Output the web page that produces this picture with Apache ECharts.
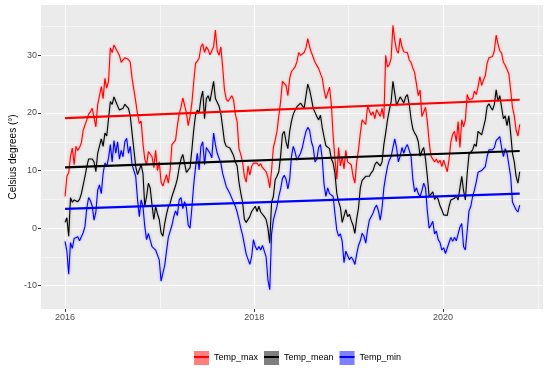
<!DOCTYPE html>
<html><head><meta charset="utf-8">
<script src="https://cdn.jsdelivr.net/npm/echarts@6/dist/echarts.min.js"></script>
<style>html,body{margin:0;padding:0;background:#fff}#c{width:550px;height:372px}</style>
</head><body><div id="c"></div>
<script>
// Weekly observations starting 2016-01-01
const seriesNames = ['Temp_max', 'Temp_mean', 'Temp_min'];
const firstDay = [2016, 0, 1];

const tempMax = [
 5.5, 9.0, 9.6, 12.5, 13.9, 11.0, 14.2, 13.5, 14.0, 14.8,
 17.0, 16.8, 18.8, 19.8, 20.2, 20.8, 21.0, 17.6, 21.4, 21.7,
 24.6, 22.5, 26.0, 24.3, 25.5, 31.3, 30.5, 31.8, 31.2, 30.6,
 30.0, 28.8, 29.0, 29.6, 29.8, 29.3, 28.8, 26.0, 24.0, 22.0,
 19.8, 18.2, 18.6, 14.7, 12.0, 11.0, 13.3, 13.6, 12.4, 10.5,
 13.5, 10.0, 11.5, 8.0, 7.3, 7.6, 9.3, 7.8, 10.1, 14.5,
 14.2, 15.3, 17.8, 19.8, 21.0, 22.6, 22.5, 20.0, 17.8, 19.4,
 21.7, 25.3, 28.6, 29.0, 29.5, 31.5, 32.0, 30.5, 31.5, 31.0,
 30.1, 29.8, 31.5, 34.4, 30.8, 30.0, 31.5, 28.0, 24.0, 22.4,
 22.0, 22.5, 23.0, 22.3, 19.8, 18.5, 13.8, 12.8, 11.5, 9.0,
 8.0, 10.8, 9.2, 10.7, 11.3, 11.0, 11.3, 10.8, 11.2, 10.5,
 10.5, 9.8, 8.8, 7.0, 10.0, 14.0, 15.3, 16.8, 19.5, 22.0,
 25.5, 25.5, 24.8, 23.0, 26.0, 27.2, 27.5, 28.0, 28.9, 30.5,
 30.0, 29.8, 30.5, 31.3, 32.9, 31.5, 30.5, 30.6, 28.8, 28.9,
 27.7, 27.8, 26.0, 24.0, 22.5, 22.6, 24.5, 21.5, 16.0, 12.0,
 8.5, 14.0, 10.8, 12.4, 10.3, 13.5, 11.5, 11.5, 11.0, 9.0,
 7.8, 11.5, 13.6, 16.5, 18.8, 19.0, 18.0, 21.2, 21.0, 19.6,
 20.2, 19.0, 20.6, 20.5, 19.4, 20.8, 19.0, 30.0, 28.0, 28.4,
 29.5, 35.2, 32.7, 30.9, 30.4, 33.0, 31.5, 30.6, 30.3, 30.5,
 29.2, 28.8, 27.8, 27.0, 25.0, 23.0, 24.0, 19.4, 19.5, 21.0,
 18.5, 15.0, 12.5, 12.5, 11.5, 12.0, 11.3, 11.8, 10.7, 11.8,
 10.8, 9.8, 12.0, 15.0, 16.3, 16.8, 15.0, 18.5, 14.0, 18.8,
 17.6, 18.8, 23.2, 22.3, 22.0, 22.5, 23.8, 23.2, 24.5, 26.3,
 24.8, 25.7, 26.5, 28.6, 29.6, 29.5, 29.8, 30.8, 33.5, 32.0,
 30.8, 30.4, 28.8, 28.3, 28.0, 26.8, 24.0, 21.0, 19.5, 17.0,
 16.0, 18.0
];

const tempMean = [
 1.0, 1.8, -1.4, 5.3, 4.5, 4.9, 4.8, 4.6, 5.0, 6.0,
 7.5, 9.0, 10.7, 12.0, 12.3, 12.0, 11.5, 9.8, 13.0, 13.3,
 15.5, 14.2, 16.5, 16.0, 19.0, 22.0, 21.5, 22.8, 22.0, 22.0,
 20.5, 20.2, 20.8, 21.5, 21.7, 20.8, 19.5, 16.5, 13.6, 10.7,
 9.3, 9.0, 11.0, 9.5, 3.8, 5.5, 7.8, 7.0, 4.0, 1.5,
 3.8, 2.5, 1.5, -0.8, -1.4, 0.8, 2.4, 3.7, 4.3, 5.5,
 5.8, 7.4, 8.6, 10.5, 12.0, 12.8, 11.2, 9.7, 9.5, 10.5,
 13.6, 17.0, 19.6, 20.5, 20.0, 22.5, 23.8, 19.0, 22.5, 23.0,
 22.0, 22.3, 25.5, 22.5, 22.5, 21.2, 19.9, 17.5, 15.0, 14.2,
 14.2, 13.9, 13.6, 12.6, 11.5, 10.8, 8.0, 6.1, 4.5, 1.5,
 1.0, 0.8, 2.0, 2.9, 2.6, 3.8, 2.9, 3.8, 2.8, 2.8,
 2.0, 1.5, 0.0, -2.6, 4.5, 5.5, 8.4, 9.0, 9.8, 12.5,
 16.3, 16.8, 15.0, 13.8, 16.8, 18.6, 19.8, 20.5, 21.1, 21.4,
 21.7, 21.5, 20.8, 23.0, 25.0, 24.0, 22.5, 20.8, 20.6, 19.4,
 18.8, 19.6, 17.4, 15.8, 14.3, 14.5, 13.8, 12.0, 11.3, 9.5,
 6.1, 4.6, 3.6, 1.0, 0.8, 3.2, 2.0, 2.4, 1.3, 0.5,
 -0.9, 1.6, 3.5, 7.0, 8.3, 8.6, 9.0, 9.2, 9.0, 9.6,
 10.0, 11.0, 11.5, 11.4, 10.8, 11.5, 14.5, 16.5, 18.8, 20.5,
 21.9, 25.5, 23.5, 21.3, 21.0, 22.8, 22.3, 21.7, 22.8, 23.2,
 21.5, 19.0, 17.2, 16.5, 16.0, 15.0, 12.5, 13.4, 14.0, 12.0,
 9.0, 5.5, 5.8, 6.3, 5.0, 5.5, 5.0, 3.9, 3.2, 2.3,
 2.0, 2.2, 3.8, 4.9, 4.8, 5.2, 5.6, 4.9, 7.0, 9.0,
 6.5, 4.9, 9.5, 12.8, 13.0, 13.6, 14.6, 14.2, 16.8, 16.8,
 16.2, 16.0, 18.8, 21.1, 21.6, 21.0, 20.5, 21.5, 24.0, 22.0,
 23.0, 21.0, 19.0, 19.5, 17.8, 19.5, 16.5, 13.0, 11.5, 9.0,
 7.8, 9.8
];

const tempMin = [
 -2.3, -4.0, -8.0, -2.5, -3.5, -1.8, -2.0, -1.5, -2.2, -1.5,
 -0.8, 0.3, 3.5, 5.3, 4.8, 3.8, 1.4, 2.8, 6.6, 7.5,
 6.0, 9.5, 11.3, 10.7, 12.2, 14.5, 11.5, 15.2, 13.0, 15.0,
 12.0, 13.5, 12.4, 15.0, 15.6, 13.0, 14.2, 11.0, 10.0, 9.0,
 5.0, 2.0, 4.9, 3.8, 0.3, -2.0, -0.9, -1.0, -3.2, -3.0,
 -3.8, -3.5, -5.5, -9.2, -7.8, -6.5, -4.0, -1.6, -1.5, 0.5,
 2.0, 3.0, 2.2, 4.9, 5.3, 3.4, 4.6, 3.5, 0.5, 0.0,
 3.5, 7.5, 10.5, 13.0, 10.1, 14.2, 15.0, 11.0, 14.0, 14.0,
 13.0, 12.2, 16.5, 14.5, 13.0, 13.2, 11.3, 9.5, 9.5, 7.2,
 7.5, 6.0, 6.0, 4.5, 3.8, 2.8, 1.5, 0.0, -1.2, -1.5,
 -4.5, -4.8, -6.3, -5.0, -2.0, -3.2, -3.8, -3.2, -3.8, -3.0,
 -2.8, -5.0, -9.0, -10.7, -1.0, 1.4, 2.6, 3.8, 5.5, 6.8,
 8.6, 9.2, 8.5, 6.8, 8.5, 12.5, 14.2, 13.2, 11.8, 11.5,
 13.0, 14.0, 15.5, 16.8, 17.5, 17.0, 15.0, 14.0, 11.5, 12.0,
 14.0, 14.5, 12.0, 7.5, 5.5, 7.0, 6.0, 6.3, 5.5, 2.5,
 -0.3, -1.4, -1.0, -2.3, -6.0, -4.0, -4.3, -5.5, -5.0, -5.5,
 -6.3, -4.5, -3.0, -2.2, -0.9, -1.4, -2.6, -0.3, 1.4, 2.0,
 2.6, 3.5, 4.0, 3.0, 1.4, 3.5, 7.0, 9.0, 10.7, 11.8,
 12.4, 14.0, 15.5, 14.0, 11.5, 12.5, 14.0, 13.0, 14.0, 14.5,
 14.7, 12.5, 8.5, 6.3, 7.0, 6.0, 5.5, 6.5, 7.8, 7.0,
 3.0, 0.0, 0.5, 1.2, -1.0, -0.5, -2.0, -2.5, -3.8, -3.4,
 -4.4, -4.6, -2.5, -1.6, -2.3, -1.6, -2.2, -1.0, 0.2, 0.8,
 -3.2, -3.8, -0.5, 3.0, 3.8, 5.5, 6.6, 8.0, 9.7, 9.5,
 10.0, 9.8, 10.7, 12.4, 13.6, 13.4, 13.6, 14.0, 15.2, 15.0,
 15.9, 14.0, 12.4, 13.8, 13.0, 12.8, 9.0, 4.5, 4.5, 3.2,
 2.8, 4.0
];

// Linear trend (start, end) values
const trendMax = [19.1, 22.3];
const trendMean = [10.55, 13.4];
const trendMin = [3.35, 6.0];

// Axis ticks
const yMajor = [-10, 0, 10, 20, 30];
const yMinor = [-5, 5, 15, 25, 35];
const xMajorYears = [2016, 2018, 2020];
const xMinorYears = [2017, 2019, 2021];

const DAY = 86400000;
const t0 = Date.UTC(firstDay[0], firstDay[1], firstDay[2]);
const dates = tempMax.map((_, i) => t0 + i * 7 * DAY);
const tEnd = dates[dates.length - 1];
const yearTs = y => Date.UTC(y, 0, 1);

const colors = ['#FF0000', '#000000', '#0000FF'];
const keyFill = ['rgba(255,0,0,0.5)', 'rgba(0,0,0,0.5)', 'rgba(0,0,255,0.5)'];
const halo = ['rgba(255,0,0,0.35)', 'rgba(0,0,0,0.3)', 'rgba(0,0,255,0.35)'];
const values = [tempMax, tempMean, tempMin];
const trends = [trendMax, trendMean, trendMin];
const FONT = '"Liberation Sans", Arial, Helvetica, sans-serif';

const dataSeries = values.map((arr, i) => ({
  name: seriesNames[i], type: 'line', symbol: 'none', showSymbol: false,
  xAxisIndex: 0, yAxisIndex: 0, z: 2,
  lineStyle: { color: colors[i], width: 1.1, shadowColor: halo[i], shadowBlur: 3 },
  itemStyle: { color: colors[i] },
  data: arr.map((v, k) => [dates[k], v])
}));
const trendSeries = trends.map((tr, i) => ({
  name: seriesNames[i] + '_trend', type: 'line', symbol: 'none', showSymbol: false,
  xAxisIndex: 0, yAxisIndex: 0, z: 3,
  lineStyle: { color: colors[i], width: 2.2 },
  data: [[dates[0], tr[0]], [tEnd, tr[1]]]
}));

const xMin = Date.UTC(2015, 8, 30);
const xMax = Date.UTC(2021, 0, 21);
const yMin = -14.04, yMax = 38.75;

const legendBase = {
  orient: 'horizontal', left: 194, padding: 0, itemWidth: 15, itemGap: 6,
  icon: 'rect', selectedMode: false,
  itemStyle: { borderWidth: 0 },
};

const option = {
  animation: false,
  backgroundColor: '#FFFFFF',
  textStyle: { fontFamily: FONT },
  grid: { left: 41, right: 7, top: 5, bottom: 63, show: true, backgroundColor: '#EBEBEB', borderWidth: 0,
          containLabel: false, outerBoundsMode: 'none' },
  xAxis: [
    {
      type: 'value', min: xMin, max: xMax, gridIndex: 0, position: 'bottom',
      axisLine: { show: false, onZero: false },
      axisTick: { show: true, length: 3, lineStyle: { color: '#333333', width: 1 }, customValues: xMajorYears.map(yearTs) },
      axisLabel: { customValues: xMajorYears.map(yearTs), formatter: v => String(new Date(v).getUTCFullYear()),
                   color: '#4D4D4D', fontSize: 9, margin: 4, fontFamily: FONT },
      splitLine: { show: true, lineStyle: { color: '#FFFFFF', width: 1.1 } }
    },
    {
      type: 'value', min: xMin, max: xMax, gridIndex: 0, position: 'bottom',
      axisLine: { show: false, onZero: false },
      axisTick: { show: false, customValues: xMinorYears.map(yearTs) },
      axisLabel: { show: false, customValues: xMinorYears.map(yearTs) },
      splitLine: { show: true, lineStyle: { color: '#FFFFFF', width: 0.55 } }
    }
  ],
  yAxis: [
    {
      type: 'value', min: yMin, max: yMax, gridIndex: 0, position: 'left',
      name: 'Celsius degrees (°)', nameLocation: 'middle', nameRotate: 90, nameGap: 23,
      nameMoveOverlap: false,
      nameTextStyle: { color: '#000000', fontSize: 10, fontFamily: FONT },
      axisLine: { show: false, onZero: false },
      axisTick: { show: true, length: 3, lineStyle: { color: '#333333', width: 1 }, customValues: yMajor },
      axisLabel: { customValues: yMajor, color: '#4D4D4D', fontSize: 9, margin: 4, fontFamily: FONT },
      splitLine: { show: true, lineStyle: { color: '#FFFFFF', width: 1.1 } }
    },
    {
      type: 'value', min: yMin, max: yMax, gridIndex: 0, position: 'left',
      axisLine: { show: false, onZero: false },
      axisTick: { show: false, customValues: yMinor },
      axisLabel: { show: false, customValues: yMinor },
      splitLine: { show: true, lineStyle: { color: '#FFFFFF', width: 0.55 } }
    }
  ],
  legend: [
    Object.assign({}, legendBase, {
      top: 351, itemHeight: 14,
      data: seriesNames.map((n, i) => ({ name: n, icon: 'rect', itemStyle: { color: keyFill[i], borderWidth: 0 } })),
      textStyle: { color: '#000000', fontSize: 9, fontFamily: FONT }
    }),
    Object.assign({}, legendBase, {
      top: 352.5, itemHeight: 2,
      data: seriesNames.map((n, i) => ({ name: n, icon: 'rect', itemStyle: { color: colors[i], borderWidth: 0 } })),
      textStyle: { color: 'rgba(0,0,0,0)', fontSize: 9, fontFamily: FONT }
    })
  ],
  series: dataSeries.concat(trendSeries)
};

const chart = echarts.init(document.getElementById('c'), null, { renderer: 'canvas' });
chart.setOption(option);
</script>
</body></html>
